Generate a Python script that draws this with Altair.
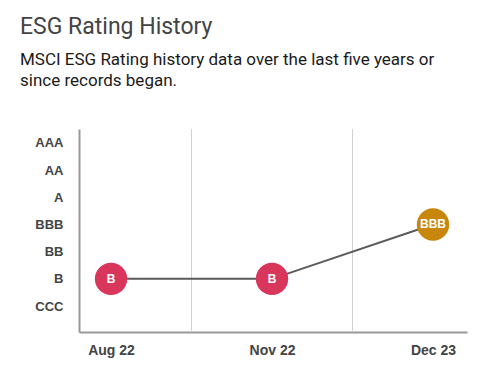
import altair as alt
import pandas as pd

dates = ["Aug 22", "Nov 22", "Dec 23"]
ratings = ["B", "B", "BBB"]
scale_levels = ["CCC", "B", "BB", "BBB", "A", "AA", "AAA"]
rating_colors = {"B": "#d8365a", "BBB": "#c8860c"}

df = pd.DataFrame({
    "date": dates,
    "rating": ratings,
    "xi": list(range(len(dates))),
    "yi": [scale_levels.index(r) for r in ratings],
})
grid_df = pd.DataFrame({"xi": [i + 0.5 for i in range(len(dates) - 1)]})

x_labels = "{" + ",".join(f"'{i}':'{d}'" for i, d in enumerate(dates)) + "}"
y_labels = "{" + ",".join(f"'{i}':'{d}'" for i, d in enumerate(scale_levels)) + "}"

xscale = alt.Scale(domain=[-0.199, 2.211], nice=False, zero=False)
yscale = alt.Scale(domain=[-0.957, 6.515], nice=False, zero=False)

x_axis = alt.Axis(
    values=list(range(len(dates))),
    labelExpr=f"{x_labels}[datum.value]",
    title=None, grid=False, ticks=False,
    domainColor="#999999", domainWidth=2,
    labelFont="Liberation Sans", labelFontSize=14, labelFontWeight="bold",
    labelColor="#444444", labelPadding=11, labelOverlap=False,
)
y_axis = alt.Axis(
    values=list(range(len(scale_levels))),
    labelExpr=f"{y_labels}[datum.value]",
    title=None, grid=False, ticks=False,
    domainColor="#999999", domainWidth=2,
    labelFont="Liberation Sans", labelFontSize=13, labelFontWeight="bold",
    labelColor="#444444", labelPadding=16, labelOverlap=False,
)

base = alt.Chart(df)

grid = alt.Chart(grid_df).mark_rule(color="#d0d0d0", strokeWidth=1).encode(
    x=alt.X("xi:Q", scale=xscale, axis=x_axis)
)

line = base.mark_line(color="#5a5a5a", strokeWidth=2).encode(
    x=alt.X("xi:Q", scale=xscale, axis=x_axis),
    y=alt.Y("yi:Q", scale=yscale, axis=y_axis),
)

points = base.mark_circle(size=1050, opacity=1).encode(
    x=alt.X("xi:Q", scale=xscale, axis=x_axis),
    y=alt.Y("yi:Q", scale=yscale, axis=y_axis),
    color=alt.Color("rating:N", scale=alt.Scale(
        domain=list(rating_colors.keys()), range=list(rating_colors.values())), legend=None),
)

labels = base.mark_text(color="white", fontSize=12, fontWeight="bold", font="Liberation Sans").encode(
    x=alt.X("xi:Q", scale=xscale, axis=x_axis),
    y=alt.Y("yi:Q", scale=yscale, axis=y_axis),
    text="rating:N",
)

chart = alt.layer(grid, line, points, labels).properties(
    width=388,
    height=203,
    autosize=alt.AutoSizeParams(type="none"),
    padding={"left": 71, "top": 121, "right": 25, "bottom": 30},
    title=alt.TitleParams(
        text="ESG Rating History",
        subtitle=["MSCI ESG Rating history data over the last five years or",
                  "since records began."],
        anchor="start",
        frame="group",
        dx=-59,
        offset=40,
        font="Roboto",
        fontSize=23,
        fontWeight="normal",
        color="#444444",
        subtitleFont="Roboto",
        subtitleFontSize=17,
        subtitleColor="#1a1a1a",
        subtitlePadding=13,
        subtitleLineHeight=21,
    ),
).configure_view(stroke=None)

chart.save("out.html", embed_options={"renderer": "svg", "actions": False})
